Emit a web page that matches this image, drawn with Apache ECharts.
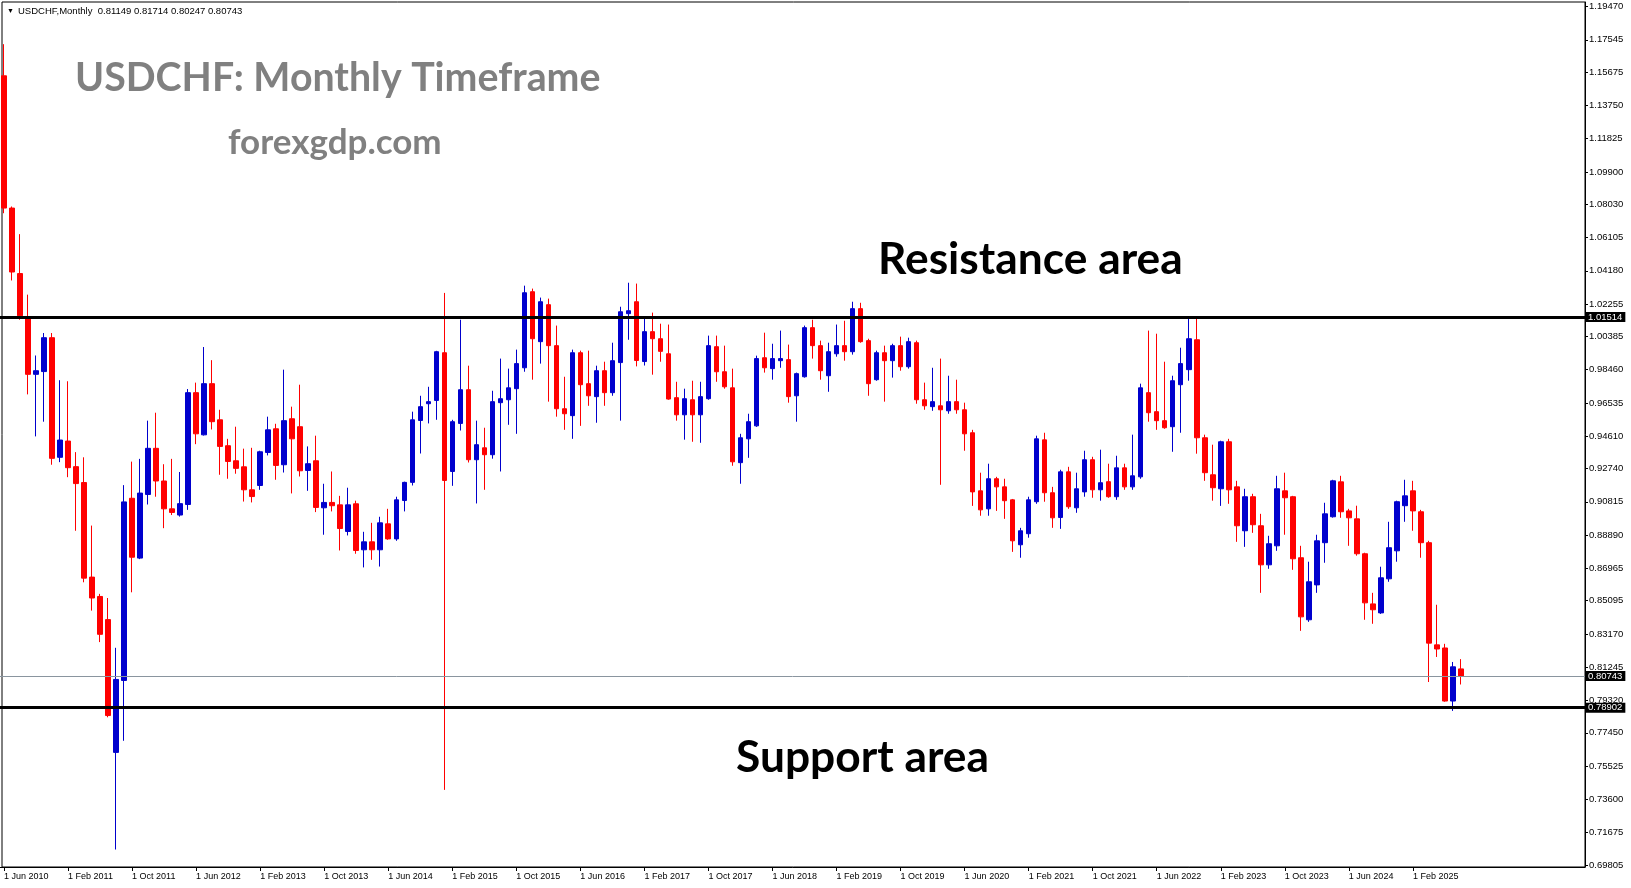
<!DOCTYPE html>
<html>
<head>
<meta charset="utf-8">
<script src="https://cdn.jsdelivr.net/npm/echarts@6/dist/echarts.min.js"></script>
<style>
html,body{margin:0;padding:0;background:#fff;}
#chart{width:1631px;height:888px;}
</style>
</head>
<body>
<div id="chart"></div>
<script>
// Monthly USDCHF, first candle = June 2010
const startYear = 2010, startMonthIndex = 5;
const monthNames = ['Jan','Feb','Mar','Apr','May','Jun','Jul','Aug','Sep','Oct','Nov','Dec'];

const opens = [
1.1546,1.0781,1.0402,1.0150,0.9819,0.9835,1.0031,0.9339,0.9433,0.9285,
0.9193,0.8646,0.8534,0.8400,0.7632,0.8048,0.9102,0.8756,0.9124,0.9391,
0.9202,0.9041,0.9005,0.9066,0.9713,0.9469,0.9765,0.9556,0.9406,0.9319,
0.9284,0.9151,0.9176,0.9367,0.9504,0.9296,0.9562,0.9516,0.9263,0.9319,
0.9047,0.9078,0.9064,0.8910,0.9070,0.8804,0.8850,0.8804,0.8954,0.8867,
0.9089,0.9194,0.9552,0.9649,0.9668,0.9944,0.9257,0.9535,0.9730,0.9325,
0.9394,0.9354,0.9655,0.9672,0.9736,0.9857,1.0297,1.0008,1.0222,0.9985,
0.9620,0.9580,0.9944,0.9765,0.9690,0.9840,0.9713,0.9887,1.0170,1.0239,
0.9893,1.0066,1.0025,0.9938,0.9684,0.9585,0.9672,0.9585,0.9678,0.9979,
0.9834,0.9741,0.9308,0.9446,0.9521,0.9915,0.9852,0.9898,0.9904,0.9695,
0.9805,1.0089,0.9985,0.9811,0.9938,0.9985,0.9950,1.0199,1.0014,0.9788,
0.9944,0.9898,0.9985,0.9863,1.0002,0.9672,0.9632,0.9637,0.9608,0.9661,
0.9614,0.9481,0.9145,0.9041,0.9215,0.9168,0.9093,0.8833,0.8897,0.9082,
0.9440,0.9134,0.8991,0.9255,0.9047,0.9139,0.9325,0.9151,0.9198,0.9111,
0.9278,0.9168,0.9226,0.9713,0.9603,0.9551,0.9516,0.9759,0.9846,1.0019,
0.9452,0.9238,0.9157,0.9429,0.9168,0.8914,0.9111,0.8943,0.8717,0.8827,
0.9145,0.9111,0.8758,0.8399,0.8601,0.8845,0.8995,0.9197,0.9029,0.8983,
0.8781,0.8491,0.8439,0.8636,0.8798,0.9059,0.9145,0.9024,0.8845,0.8254,
0.8236,0.7929,0.81149];

const highs = [
1.1729,1.0790,1.0630,1.0280,0.9928,1.0058,1.0058,0.9785,0.9779,0.9369,
0.9339,0.8944,0.8549,0.8525,0.8237,0.9178,0.9314,0.9330,0.9551,0.9597,
0.9299,0.9330,0.9254,0.9734,0.9771,0.9977,0.9901,0.9614,0.9446,0.9516,
0.9389,0.9394,0.9377,0.9574,0.9533,0.9846,0.9632,0.9759,0.9402,0.9464,
0.9186,0.9257,0.9116,0.9163,0.9088,0.8908,0.8960,0.8995,0.9041,0.9111,
0.9198,0.9603,0.9695,0.9747,0.9955,1.0290,0.9556,1.0135,0.9869,0.9551,
0.9510,0.9724,0.9910,0.9852,0.9962,1.0332,1.0315,1.0263,1.0257,1.0101,
0.9805,0.9962,0.9956,0.9956,0.9869,0.9892,1.0002,1.0210,1.0349,1.0344,
1.0151,1.0176,1.0112,1.0107,0.9776,0.9736,0.9782,0.9776,1.0043,1.0043,
0.9985,0.9852,0.9475,0.9591,0.9927,1.0060,0.9996,1.0072,0.9991,0.9829,
1.0101,1.0135,1.0014,1.0002,1.0107,1.0129,1.0239,1.0233,1.0025,0.9956,
0.9985,0.9996,1.0037,1.0031,1.0014,0.9771,0.9857,0.9910,0.9811,0.9788,
0.9655,0.9498,0.9250,0.9302,0.9226,0.9215,0.9098,0.8931,0.9111,0.9464,
0.9481,0.9168,0.9267,0.9284,0.9250,0.9377,0.9342,0.9383,0.9302,0.9348,
0.9302,0.9470,0.9765,1.0072,1.0054,0.9892,0.9811,0.9973,1.0152,1.0147,
0.9470,0.9412,0.9435,0.9446,0.9203,0.9157,0.9128,0.9012,0.8885,0.9232,
0.9250,0.9116,0.8827,0.8735,0.8891,0.9076,0.9209,0.9232,0.9041,0.9059,
0.8787,0.8555,0.8706,0.8966,0.9088,0.9209,0.9203,0.9035,0.8856,0.8486,
0.8260,0.8155,0.81714];

const lows = [
1.0751,1.0362,1.0135,0.9703,0.9460,0.9545,0.9296,0.9311,0.9224,0.8914,
0.8616,0.8452,0.8270,0.7835,0.7070,0.7699,0.8558,0.8750,0.9066,0.9111,
0.8929,0.9005,0.8996,0.9035,0.9415,0.9465,0.9500,0.9238,0.9215,0.9244,
0.9083,0.9078,0.9151,0.9350,0.9209,0.9251,0.9130,0.9228,0.9145,0.9022,
0.8891,0.9026,0.8800,0.8887,0.8781,0.8702,0.8746,0.8707,0.8862,0.8856,
0.9026,0.9176,0.9361,0.9535,0.9556,0.7415,0.9174,0.9494,0.9309,0.9072,
0.9151,0.9331,0.9257,0.9527,0.9475,0.9834,0.9788,0.9881,0.9661,0.9574,
0.9498,0.9446,0.9521,0.9637,0.9539,0.9637,0.9695,0.9551,1.0019,0.9865,
0.9870,0.9817,0.9892,0.9672,0.9551,0.9441,0.9429,0.9423,0.9672,0.9776,
0.9736,0.9290,0.9186,0.9336,0.9515,0.9829,0.9788,0.9857,0.9655,0.9545,
0.9800,0.9910,0.9788,0.9718,0.9921,0.9898,0.9933,1.0002,0.9695,0.9782,
0.9661,0.9800,0.9840,0.9852,0.9649,0.9614,0.9608,0.9180,0.9591,0.9591,
0.9377,0.9058,0.9001,0.9001,0.9029,0.8983,0.8792,0.8758,0.8874,0.9070,
0.9082,0.8931,0.8925,0.9041,0.9018,0.9111,0.9105,0.9088,0.9105,0.9093,
0.9151,0.9151,0.9215,0.9545,0.9498,0.9504,0.9371,0.9481,0.9782,0.9360,
0.9203,0.9088,0.9058,0.9070,0.8850,0.8821,0.8902,0.8555,0.8694,0.8798,
0.8891,0.8688,0.8335,0.8387,0.8555,0.8729,0.8990,0.8989,0.8827,0.8770,
0.8399,0.8376,0.8433,0.8619,0.8735,0.8966,0.8914,0.8758,0.8039,0.8184,
0.7925,0.7872,0.80247];

const closes = [
1.0781,1.0411,1.0158,0.9819,0.9840,1.0031,0.9333,0.9439,0.9279,0.9187,
0.8640,0.8525,0.8315,0.7845,0.8054,0.9081,0.8761,0.9132,0.9391,0.9202,
0.9041,0.9020,0.9071,0.9713,0.9475,0.9765,0.9545,0.9402,0.9315,0.9275,
0.9151,0.9112,0.9371,0.9498,0.9292,0.9551,0.9446,0.9261,0.9302,0.9049,
0.9078,0.9059,0.8927,0.9064,0.8800,0.8850,0.8804,0.8960,0.8867,0.9093,
0.9194,0.9556,0.9632,0.9661,0.9950,0.9205,0.9545,0.9730,0.9325,0.9412,
0.9354,0.9661,0.9678,0.9741,0.9881,1.0291,1.0025,1.0239,0.9985,0.9620,
0.9591,0.9944,0.9759,0.9695,0.9840,0.9713,0.9898,1.0181,1.0187,0.9899,
1.0066,1.0025,0.9952,0.9676,0.9585,0.9678,0.9585,0.9690,0.9985,0.9834,
0.9747,0.9313,0.9452,0.9545,0.9910,0.9857,0.9910,0.9910,0.9690,0.9823,
1.0089,0.9985,0.9840,0.9950,0.9985,0.9950,1.0199,1.0008,0.9765,0.9944,
0.9898,0.9985,0.9863,1.0008,0.9672,0.9637,0.9661,0.9614,0.9661,0.9614,
0.9475,0.9139,0.9035,0.9215,0.9168,0.9088,0.8856,0.8914,0.9093,0.9446,
0.9134,0.8989,0.9255,0.9053,0.9157,0.9325,0.9151,0.9192,0.9111,0.9278,
0.9168,0.9232,0.9741,0.9597,0.9551,0.9510,0.9782,0.9881,1.0025,0.9452,
0.9250,0.9163,0.9429,0.9151,0.8943,0.9111,0.8949,0.8717,0.8839,0.9157,
0.9105,0.8752,0.8416,0.8619,0.8856,0.9012,0.9203,0.9024,0.8989,0.8781,
0.8497,0.8457,0.8642,0.8816,0.9082,0.9116,0.9029,0.8845,0.8264,0.8230,
0.7929,0.8127,0.80743];

const priceTicks = [1.19470,1.17545,1.15675,1.13750,1.11825,1.09900,1.08030,1.06105,1.04180,1.02255,
  1.00385,0.98460,0.96535,0.94610,0.92740,0.90815,0.88890,0.86965,0.85095,0.83170,
  0.81245,0.79320,0.77450,0.75525,0.73600,0.71675,0.69805];

const resistanceLevel = 1.01514;
const supportLevel = 0.78902;
const bidLevel = 0.80743;

const headerText = 'USDCHF,Monthly  0.81149 0.81714 0.80247 0.80743';
const titleText = 'USDCHF: Monthly Timeframe';
const siteText = 'forexgdp.com';
const resistanceText = 'Resistance area';
const supportText = 'Support area';

const totalSlots = 198;   // visible month slots on the time scale
const labelEvery = 8;

const N = opens.length;
const categories = [];
for (let i = 0; i < totalSlots; i++) {
  const m = startMonthIndex + i;
  categories.push('1 ' + monthNames[m % 12] + ' ' + (startYear + Math.floor(m / 12)));
}
const candleData = opens.map((o, i) => [o, closes[i], lows[i], highs[i]]);

const showAt = (index) => index % labelEvery === 0 && index < N;

const chart = echarts.init(document.getElementById('chart'), null, {renderer: 'canvas'});
const smallFont = 'Liberation Sans, Arial, sans-serif';
const boxLabel = {
  show: true, position: 'end', distance: 1,
  formatter: p => Number(p.value).toFixed(5),
  backgroundColor: '#000', color: '#fff', fontSize: 9.5, fontFamily: smallFont,
  padding: [1, 3, 0, 2], lineHeight: 9
};

chart.setOption({
  animation: false,
  backgroundColor: '#fff',
  grid: [
    {left: -1, right: 46, top: 2, bottom: 21, show: false, containLabel: false},
    {left: 2, right: 46, top: 2, bottom: 21, show: true, borderColor: '#000', borderWidth: 1, backgroundColor: 'transparent'}
  ],
  xAxis: [
    {
      type: 'category', gridIndex: 0, data: categories, boundaryGap: true,
      axisLine: {show: true, lineStyle: {color: '#000', width: 1}},
      axisTick: {show: true, alignWithLabel: true, interval: showAt, length: 4, lineStyle: {color: '#000'}},
      axisLabel: {show: true, interval: showAt, align: 'left', margin: 5, fontSize: 9,
        fontFamily: smallFont, color: '#000'},
      splitLine: {show: false}
    },
    {type: 'category', gridIndex: 1, show: false, data: ['a']}
  ],
  yAxis: [
    {
      type: 'value', gridIndex: 0, position: 'right', min: 0.69689, max: 1.19730,
      axisLine: {show: true, lineStyle: {color: '#000', width: 1}},
      axisTick: {show: true, customValues: priceTicks, length: 3, lineStyle: {color: '#000'}},
      axisLabel: {show: true, customValues: priceTicks, formatter: v => Number(v).toFixed(5),
        margin: 4, fontSize: 9.5, fontFamily: smallFont, color: '#000'},
      splitLine: {show: false}
    },
    {type: 'value', gridIndex: 1, show: false}
  ],
  series: [{
    type: 'candlestick',
    xAxisIndex: 0, yAxisIndex: 0,
    data: candleData,
    barWidth: 5,
    itemStyle: {
      color: '#0000CD', color0: '#FF0000',
      borderColor: '#0000CD', borderColor0: '#FF0000', borderWidth: 1
    },
    markLine: {
      silent: true, animation: false, symbol: ['none', 'none'], precision: 5,
      data: [
        {yAxis: bidLevel, lineStyle: {color: '#8a959f', width: 1, type: 'solid'}, label: boxLabel},
        {yAxis: resistanceLevel, lineStyle: {color: '#000', width: 3, type: 'solid'}, label: boxLabel},
        {yAxis: supportLevel, lineStyle: {color: '#000', width: 3, type: 'solid'}, label: boxLabel}
      ]
    }
  }],
  graphic: [
    {type: 'text', x: 7, y: 11, style: {text: '▼', fontSize: 7, fill: '#000', font: '7px DejaVu Sans', verticalAlign: 'middle'}},
    {type: 'text', x: 18, y: 11, style: {text: headerText, font: '9.5px Liberation Sans', fill: '#000', verticalAlign: 'middle'}},
    {type: 'text', x: 75, y: 78, style: {text: titleText, font: 'bold 39.3px Lato', fill: '#808080', verticalAlign: 'middle'}},
    {type: 'text', x: 228, y: 143, style: {text: siteText, font: 'bold 35px Lato', fill: '#808080', verticalAlign: 'middle'}},
    {type: 'text', x: 878, y: 260, style: {text: resistanceText, font: 'bold 44.3px Lato', fill: '#000', verticalAlign: 'middle'}},
    {type: 'text', x: 736, y: 758, style: {text: supportText, font: 'bold 44.3px Lato', fill: '#000', verticalAlign: 'middle'}}
  ]
});
</script>
</body>
</html>
